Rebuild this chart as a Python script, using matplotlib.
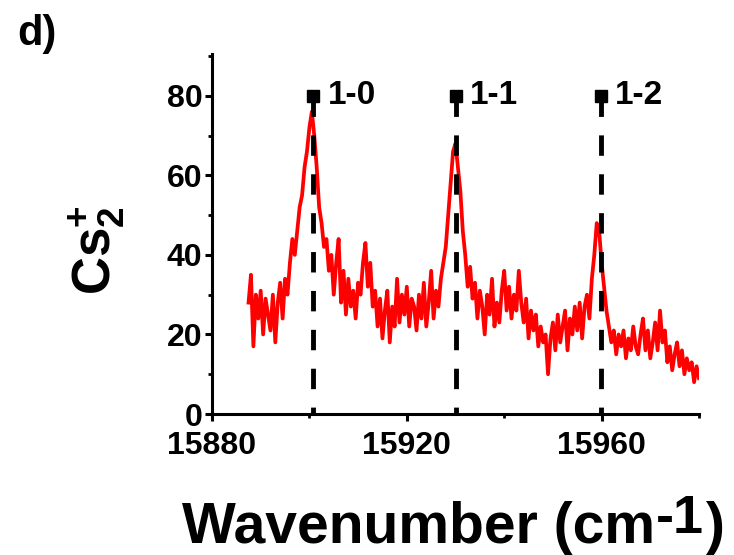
import matplotlib
matplotlib.use("Agg")
import matplotlib.pyplot as plt
from matplotlib.ticker import MultipleLocator
import numpy as np

plt.rcParams['font.family'] = ['Liberation Sans', 'DejaVu Sans']
plt.rcParams['font.weight'] = 'bold'
plt.rcParams['mathtext.fontset'] = 'custom'
plt.rcParams['mathtext.rm'] = 'Liberation Sans:bold'
plt.rcParams['mathtext.bf'] = 'Liberation Sans:bold'
plt.rcParams['mathtext.it'] = 'Liberation Sans:bold'

# spectrum, every 0.5 cm-1
wn_start = 15887.5
wn_step = 0.5
signal = [
    28, 35, 17, 30, 24, 31, 20, 29, 25, 21,   # 15887.5 - 15892.0
    30, 18, 28, 33, 24, 34, 30, 38, 44, 40,   # 15892.5 - 15897.0
    46, 52, 55, 62, 66, 72, 76, 70, 62, 52,   # 15897.5 - 15902.0
    48, 42, 44, 36, 40, 30, 38, 44, 28, 36,   # 15902.5 - 15907.0
    25, 34, 27, 31, 24, 33, 30, 38, 43, 32,   # 15907.5 - 15912.0
    38, 27, 31, 22, 29, 19, 26, 31, 18, 27,   # 15912.5 - 15917.0
    22, 34, 23, 30, 25, 32, 22, 29, 27, 21,   # 15917.5 - 15922.0
    30, 24, 33, 22, 28, 36, 24, 31, 27, 34,   # 15922.5 - 15927.0
    38, 42, 50, 58, 66, 68, 62, 56, 46, 40,   # 15927.5 - 15932.0
    32, 37, 29, 33, 24, 31, 27, 20, 30, 25,   # 15932.5 - 15937.0
    34, 22, 28, 23, 31, 36, 26, 32, 24, 30,   # 15937.5 - 15942.0
    26, 36, 28, 23, 29, 19, 26, 21, 25, 17,   # 15942.5 - 15947.0
    22, 18, 20, 10, 19, 23, 16, 25, 18, 22,   # 15947.5 - 15952.0
    26, 16, 24, 20, 27, 21, 28, 19, 27, 30,   # 15952.5 - 15957.0
    24, 34, 40, 48, 46, 38, 32, 26, 22, 18,   # 15957.5 - 15962.0
    21, 15, 20, 17, 21, 14, 19, 16, 22, 17,   # 15962.5 - 15967.0
    15, 20, 24, 16, 21, 14, 18, 23, 16, 26,   # 15967.5 - 15972.0
    18, 21, 13, 17, 11, 15, 18, 12, 16, 10,   # 15972.5 - 15977.0
    14, 11, 13, 8, 12, 9,                     # 15977.5 - 15980.0
]
wavenumber = wn_start + wn_step * np.arange(len(signal))

line_pos = [15900.7, 15930.0, 15959.8]
line_labels = ["1-0", "1-1", "1-2"]
line_top = 80

W, H = 734, 555
fig = plt.figure(figsize=(W / 100, H / 100), dpi=100)
ax = fig.add_axes([212 / W, 1 - 414 / H, 487 / W, 360 / H])

ax.plot(wavenumber, signal, color="#ff0000", linewidth=2.7, zorder=2)

for xp, lab in zip(line_pos, line_labels):
    ax.plot([xp, xp], [line_top, 0], color="black", linewidth=3.5,
            linestyle=(0, (4.2, 3.8)), zorder=3, clip_on=False)
    ax.plot([xp], [line_top], marker="s", color="black", markersize=8.5,
            zorder=4, clip_on=False)
    ax.text(xp + 3.0, line_top, lab, fontsize=24, fontweight="bold",
            va="center", ha="left")

ax.set_xlim(15880, 15980)
ax.set_ylim(0, 90.5)
ax.xaxis.set_major_locator(MultipleLocator(40))
ax.xaxis.set_minor_locator(MultipleLocator(20))
ax.yaxis.set_major_locator(MultipleLocator(20))
ax.yaxis.set_minor_locator(MultipleLocator(10))

for side in ["top", "right"]:
    ax.spines[side].set_visible(False)
for side in ["left", "bottom"]:
    ax.spines[side].set_linewidth(2.2)

ax.tick_params(which="major", direction="out", length=5, width=2.2,
               labelsize=23)
ax.tick_params(axis="y", which="major", pad=2)
ax.tick_params(axis="x", which="major", pad=7)
ax.tick_params(which="minor", direction="out", length=3, width=2.0)
for t in ax.get_xticklabels() + ax.get_yticklabels():
    t.set_fontweight("bold")

# x label with a full-size raised "-1", built from three pieces
base_y = 1 - 543 / H
t1 = fig.text(182 / W, base_y, "Wavenumber (cm", fontsize=41,
              fontweight="bold", ha="left", va="baseline")
fig.canvas.draw()
r = fig.canvas.get_renderer()
x1 = t1.get_window_extent(r).x1
t2 = fig.text(x1 / W + 1 / W, base_y + 10 / H, "-1", fontsize=39,
              fontweight="bold", ha="left", va="baseline")
fig.canvas.draw()
x2 = t2.get_window_extent(r).x1
fig.text(x2 / W + 2 / W, base_y, ")", fontsize=41, fontweight="bold",
         ha="left", va="baseline")

fig.text(97 / W, 1 - 250 / H, r"Cs$_{2}^{+}$", fontsize=38,
         fontweight="bold", rotation=90, ha="center", va="center")

fig.text(17 / W, 1 - 45 / H, "d)", fontsize=30, fontweight="bold",
         va="baseline", ha="left")

fig.savefig("out.png", dpi=100)
